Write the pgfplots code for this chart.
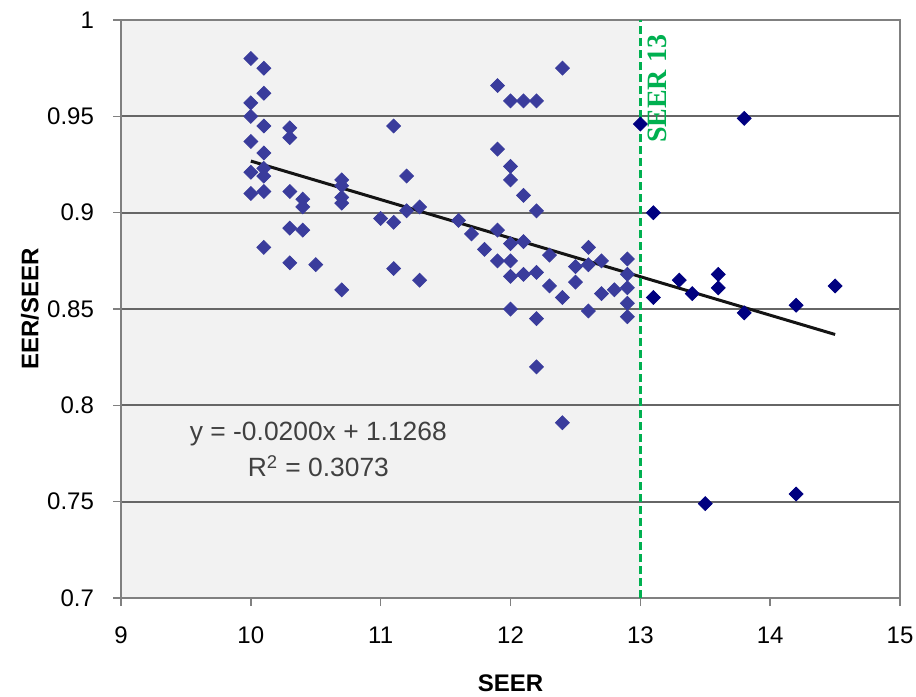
\documentclass[border=0pt]{standalone}
\usepackage{pgfplots}
\pgfplotsset{compat=1.18}
\usepackage{fontspec}
\setmainfont{Liberation Sans}
\newfontfamily\serifbold{Liberation Serif}
\definecolor{ptblue}{HTML}{3A3C9C}
\definecolor{ptnavy}{HTML}{000080}
\definecolor{bgshade}{HTML}{F2F2F2}
\definecolor{gridgray}{HTML}{808080}
\definecolor{seergreen}{HTML}{00B050}
\definecolor{eqgray}{HTML}{404040}

\begin{document}
\begin{tikzpicture}
\begin{axis}[
    set layers,
    scale only axis,
    width=389.5pt,
    height=289pt,
    xmin=9, xmax=15,
    ymin=0.7, ymax=1,
    xtick={9,10,...,15},
    ytick={0.7,0.75,0.8,0.85,0.9,0.95,1},
    yticklabels={0.7,0.75,0.8,0.85,0.9,0.95,1},
    tick pos=left,
    tick align=outside,
    major tick length=4pt,
    tick style={draw=gridgray, line width=0.75pt},
    axis line style={draw=gridgray, line width=0.9pt},
    ymajorgrids=true,
    grid style={draw=gridgray!80!black, line width=1pt},
    /pgf/number format/assume math mode=true,
    tick label style={font=\fontsize{12}{14}\selectfont, text=black},
    xticklabel style={yshift=-7pt},
    yticklabel style={xshift=-6pt},
    xlabel={\textbf{SEER}},
    ylabel={\textbf{EER/SEER}},
    label style={font=\fontsize{12}{14}\selectfont},
    xlabel style={at={(axis description cs:0.5,-0.147)}, anchor=center},
    ylabel style={at={(axis description cs:-0.117,0.5)}, anchor=center},
]
\begin{pgfonlayer}{axis background}
\fill[fill=bgshade] (axis cs:9,0.7) rectangle (axis cs:13,1);
\end{pgfonlayer}

% ratings below SEER 13
\addplot[only marks, mark=square*, mark size=2.45pt,
    mark options={rotate=45, fill=ptblue, draw=ptblue}] coordinates {
(10.0,0.980) (10.0,0.957) (10.0,0.950) (10.0,0.937) (10.0,0.921) (10.0,0.910)
(10.1,0.975) (10.1,0.962) (10.1,0.945) (10.1,0.931) (10.1,0.923) (10.1,0.919)
(10.1,0.911) (10.1,0.882)
(10.3,0.944) (10.3,0.939) (10.3,0.911) (10.3,0.892) (10.3,0.874)
(10.4,0.907) (10.4,0.903) (10.4,0.891)
(10.5,0.873)
(10.7,0.917) (10.7,0.914) (10.7,0.908) (10.7,0.905) (10.7,0.860)
(11.0,0.897)
(11.1,0.945) (11.1,0.895) (11.1,0.871)
(11.2,0.919) (11.2,0.901)
(11.3,0.903) (11.3,0.865)
(11.6,0.896) (11.7,0.889) (11.8,0.881)
(11.9,0.966) (11.9,0.933) (11.9,0.891) (11.9,0.875)
(12.0,0.958) (12.0,0.924) (12.0,0.917) (12.0,0.884) (12.0,0.875) (12.0,0.867) (12.0,0.850)
(12.1,0.958) (12.1,0.909) (12.1,0.885) (12.1,0.868)
(12.2,0.958) (12.2,0.901) (12.2,0.869) (12.2,0.845) (12.2,0.820)
(12.3,0.878) (12.3,0.862)
(12.4,0.975) (12.4,0.856) (12.4,0.791)
(12.5,0.872) (12.5,0.864)
(12.6,0.882) (12.6,0.873) (12.6,0.849)
(12.7,0.875) (12.7,0.858)
(12.8,0.860)
(12.9,0.876) (12.9,0.868) (12.9,0.861) (12.9,0.853) (12.9,0.846)
};

% ratings at or above SEER 13
\addplot[only marks, mark=square*, mark size=2.45pt,
    mark options={rotate=45, fill=ptnavy, draw=ptnavy}] coordinates {
(13.0,0.946) (13.1,0.900) (13.1,0.856) (13.3,0.865) (13.4,0.858)
(13.5,0.749) (13.6,0.868) (13.6,0.861) (13.8,0.949) (13.8,0.848)
(14.2,0.852) (14.2,0.754) (14.5,0.862)
};

% linear trend
\addplot[draw=black!92, line width=1.5pt] coordinates {(10,0.9268) (14.5,0.8368)};

% SEER 13 marker line
\addplot[draw=seergreen, line width=1.2pt, dash pattern=on 4pt off 2pt] coordinates {(13,0.7) (13,1)};
\node[rotate=90, anchor=north west, inner sep=0pt, text=seergreen,
    font=\serifbold\bfseries\fontsize{14}{16}\selectfont] at (axis cs:13.058,0.936) {SEER 13};

\node[align=center, text=eqgray, font=\fontsize{13.2}{18}\selectfont]
    at (axis cs:10.52,0.777) {y = -0.0200x + 1.1268\\R\textsuperscript{2} = 0.3073};

\coordinate (bbsw) at (axis cs:8.068,0.6491);
\coordinate (bbne) at (axis cs:15.123,1.0104);
\end{axis}
\pgfresetboundingbox
\path[use as bounding box] (bbsw) rectangle (bbne);
\end{tikzpicture}
\end{document}
